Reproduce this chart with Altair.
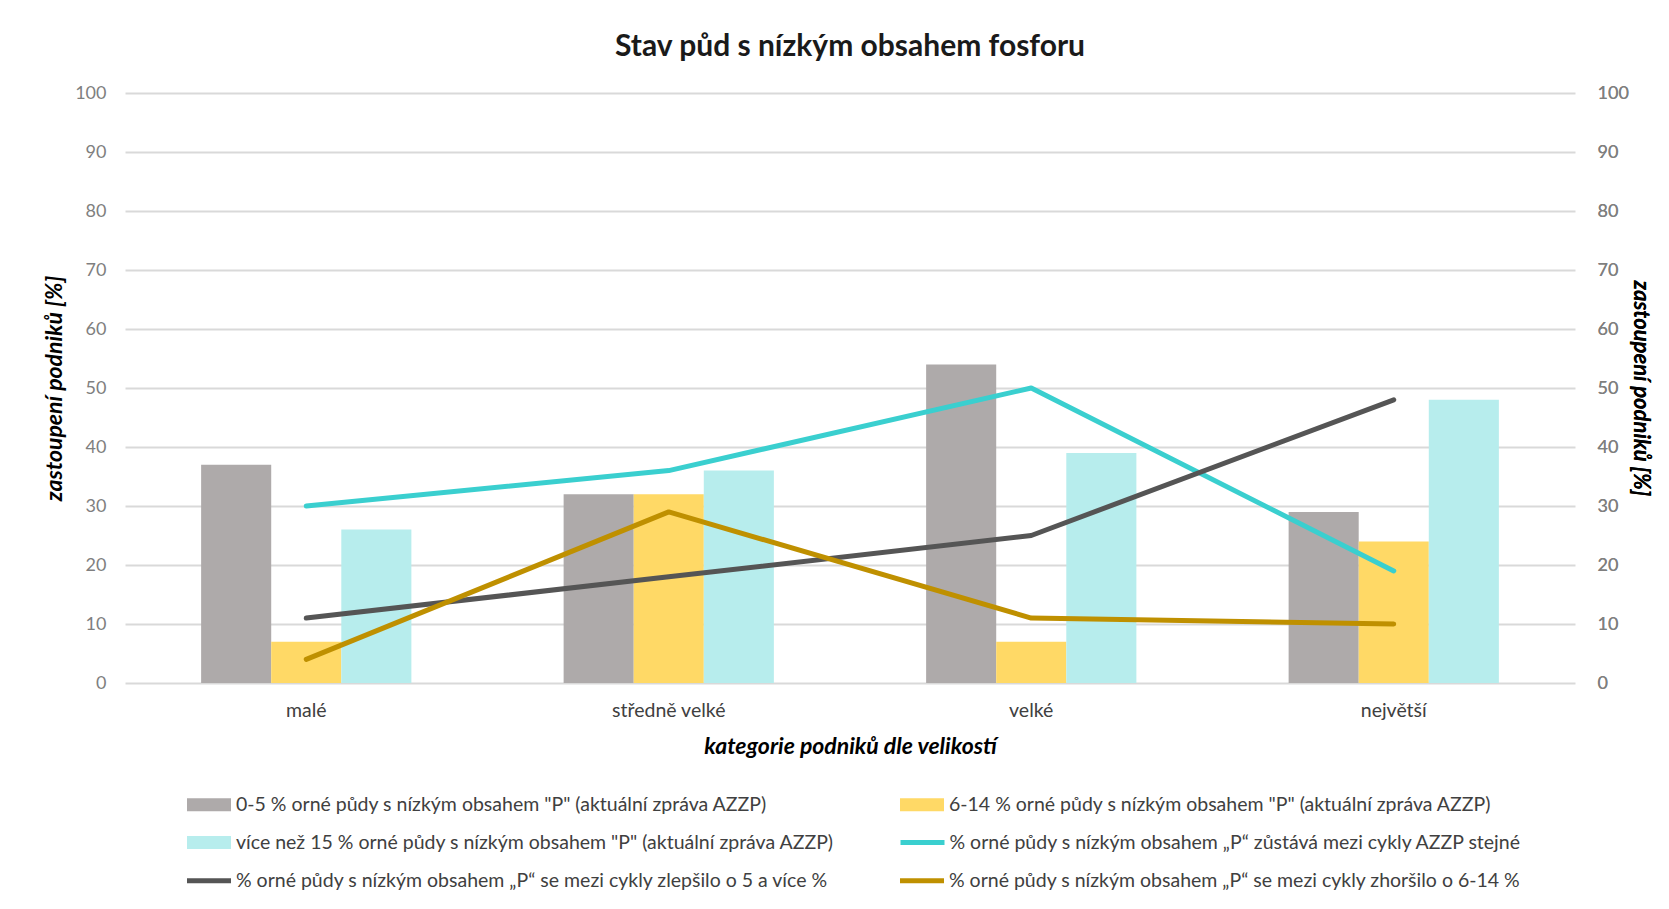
import altair as alt
import pandas as pd

FONT = "Lato"

categories = ["malé", "středně velké", "velké", "největší"]

bar_series = [
    '0-5 % orné půdy s nízkým obsahem "P" (aktuální zpráva AZZP)',
    '6-14 % orné půdy s nízkým obsahem "P" (aktuální zpráva AZZP)',
    'více než 15 % orné půdy s nízkým obsahem "P" (aktuální zpráva AZZP)',
]
line_series = [
    '% orné půdy s nízkým obsahem „P“ zůstává mezi cykly AZZP stejné',
    '% orné půdy s nízkým obsahem „P“ se mezi cykly zlepšilo o 5 a více %',
    '% orné půdy s nízkým obsahem „P“ se mezi cykly zhoršilo o 6-14 %',
]

bar_0_5 = [37, 32, 54, 29]
bar_6_14 = [7, 32, 7, 24]
bar_15_plus = [26, 36, 39, 48]

line_same = [30, 36, 50, 19]
line_better = [11, 18, 25, 48]
line_worse = [4, 29, 11, 10]

bar_colors = ["#AEAAAA", "#FFD966", "#B7EDED"]
line_colors = ["#3ACFCF", "#555555", "#BF9000"]

bar_rows = []
for s, vals in zip(bar_series, [bar_0_5, bar_6_14, bar_15_plus]):
    for c, v in zip(categories, vals):
        bar_rows.append({"cat": c, "series": s, "value": v})
df_bar = pd.DataFrame(bar_rows)

line_rows = []
for s, vals in zip(line_series, [line_same, line_better, line_worse]):
    for c, v in zip(categories, vals):
        line_rows.append({"cat": c, "series": s, "value": v})
df_line = pd.DataFrame(line_rows)
df_line_a = df_line[df_line["series"] == line_series[0]]
df_line_b = df_line[df_line["series"] != line_series[0]]

# legend is filled column by column: reorder so it reads row by row
bar_legend_domain = [bar_series[0], bar_series[2], bar_series[1]]
bar_legend_range = [bar_colors[0], bar_colors[2], bar_colors[1]]

rect_path = "M-2.2,-0.65H2.2V0.65H-2.2Z"
line_path = "M-2.2,0H2.2"

LEG_FS = 19.5
ROW = 38


def legend(x, y, symbol, cols, colpad, stroke_w, label_off):
    return alt.Legend(
        title=None,
        orient="none",
        legendX=x,
        legendY=y,
        columns=cols,
        columnPadding=colpad,
        rowPadding=ROW - 20,
        symbolSize=400,
        symbolType=symbol,
        symbolStrokeWidth=stroke_w,
        symbolOpacity=1,
        labelOffset=label_off,
        labelLimit=900,
        labelFont=FONT,
        labelFontSize=LEG_FS,
        labelColor="#404040",
    )


x_scale = alt.Scale(paddingInner=0.42, paddingOuter=0.21)
y_scale = alt.Scale(domain=[0, 100], nice=False)

x_axis = alt.Axis(
    title="kategorie podniků dle velikostí",
    titleFont=FONT, titleFontSize=23, titleFontWeight="bold", titleFontStyle="italic",
    titleColor="#000000", titlePadding=16,
    labelFont=FONT, labelFontSize=19.5, labelColor="#404040", labelAngle=0,
    labelPadding=18, ticks=False, tickSize=0, domain=False, grid=False,
)

y_values = list(range(0, 101, 10))

y_axis_left = alt.Axis(
    title="zastoupení podniků [%]", orient="left", values=y_values,
    titleFont=FONT, titleFontSize=23, titleFontWeight="bold", titleFontStyle="italic",
    titleColor="#000000", titlePadding=8,
    labelFont=FONT, labelFontSize=18, labelColor="#7F7F7F", labelPadding=19,
    ticks=False, tickSize=0, domain=False,
    grid=True, gridColor="#D9D9D9", gridWidth=1.8,
)
y_axis_right = alt.Axis(
    title="zastoupení podniků [%]", orient="right", values=y_values,
    titleFont=FONT, titleFontSize=22, titleFontWeight="bold", titleFontStyle="italic",
    titleColor="#000000", titlePadding=0,
    labelFont=FONT, labelFontSize=18, labelColor="#7F7F7F", labelPadding=22,
    ticks=False, tickSize=0, domain=False, grid=False,
)

bars = alt.Chart(df_bar).mark_bar().encode(
    x=alt.X("cat:N", sort=categories, scale=x_scale, axis=x_axis),
    xOffset=alt.XOffset("series:N", sort=bar_series,
                        scale=alt.Scale(paddingInner=0, paddingOuter=0)),
    y=alt.Y("value:Q", scale=y_scale, axis=y_axis_left),
    color=alt.Color("series:N",
                    scale=alt.Scale(domain=bar_legend_domain, range=bar_legend_range),
                    legend=legend(74, 701.5, rect_path, 2, 65, 0, 17)),
)

line_mark = dict(strokeWidth=5, strokeCap="round", strokeJoin="round")

lines_a = alt.Chart(df_line_a).mark_line(**line_mark).encode(
    x=alt.X("cat:N", sort=categories, scale=x_scale, axis=x_axis),
    y=alt.Y("value:Q", scale=y_scale, axis=y_axis_right),
    stroke=alt.Stroke("series:N",
                      scale=alt.Scale(domain=line_series[:1], range=line_colors[:1]),
                      legend=legend(785, 699 + ROW, line_path, 1, 0, 5, 14.5)),
)

lines_b = alt.Chart(df_line_b).mark_line(**line_mark).encode(
    x=alt.X("cat:N", sort=categories, scale=x_scale, axis=x_axis),
    y=alt.Y("value:Q", scale=y_scale, axis=y_axis_right),
    stroke=alt.Stroke("series:N",
                      scale=alt.Scale(domain=line_series[1:], range=line_colors[1:]),
                      legend=legend(71.5, 699 + 2 * ROW, line_path, 2, 60, 5, 14.5)),
)

chart = (
    alt.layer(bars, lines_a, lines_b)
    .resolve_axis(y="independent")
    .resolve_scale(stroke="independent")
    .resolve_legend(stroke="independent")
    .properties(
        width=1450,
        height=590,
        autosize=alt.AutoSizeParams(type="none"),
        padding={"left": 117, "top": 85, "right": 84, "bottom": 210},
        background="white",
        title=alt.TitleParams(
            "Stav půd s nízkým obsahem fosforu",
            font=FONT, fontSize=30, fontWeight="bold", color="#1A1A1A",
            anchor="middle", offset=22,
        ),
    )
    .configure_view(stroke=None)
)

chart.save("out.html", embed_options={"renderer": "svg", "actions": False})
